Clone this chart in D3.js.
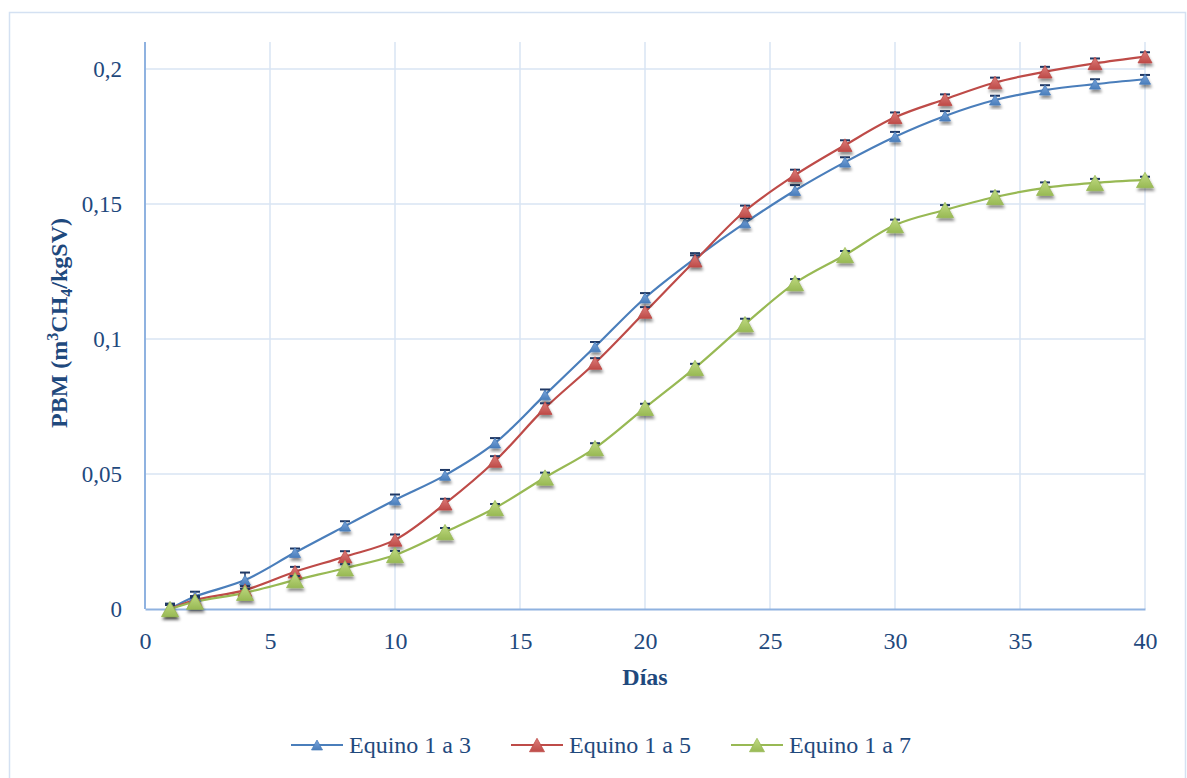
<!DOCTYPE html>
<html><head><meta charset="utf-8">
<script src="https://cdn.jsdelivr.net/npm/d3@7"></script>
<style>
body{margin:0;background:#fff;}
svg{display:block;}
</style></head>
<body><svg id="c" width="1187" height="778"></svg>
<script>
const days = [1,2,4,6,8,10,12,14,16,18,20,22,24,26,28,30,32,34,36,38,40];
const equino13 = [0,0.0046,0.0107,0.0209,0.0307,0.0404,0.0495,0.0615,0.0793,0.0971,0.1152,0.1298,0.143,0.155,0.1655,0.1749,0.1826,0.1885,0.1922,0.1944,0.1962];
const equino15 = [0,0.0033,0.007,0.0138,0.0194,0.0256,0.039,0.0548,0.0744,0.0911,0.110,0.129,0.1474,0.1607,0.1718,0.1821,0.1888,0.195,0.199,0.2021,0.2046];
const equino17 = [0,0.0027,0.006,0.0107,0.0151,0.0200,0.0285,0.0374,0.0487,0.0596,0.0745,0.0893,0.1055,0.1207,0.1311,0.1422,0.1478,0.1526,0.156,0.1578,0.1589];
const err13 = [0.002,0.0018,0.0028,0.0015,0.0018,0.002,0.002,0.0018,0.002,0.0018,0.0018,0.002,0.0018,0.002,0.0018,0.0018,0.0018,0.0016,0.0018,0.0018,0.0016];
const err15 = [0.0015,0.0015,0.0015,0.0018,0.002,0.002,0.0018,0.0018,0.0018,0.0018,0.0018,0.002,0.002,0.002,0.0018,0.0018,0.0018,0.0018,0.0018,0.0018,0.0016];
const err17 = [0.0015,0.0015,0.0015,0.0015,0.0015,0.0015,0.0015,0.0015,0.0018,0.0018,0.0015,0.0015,0.002,0.0015,0.0015,0.002,0.0018,0.002,0.002,0.0015,0.0012];
const seriesNames = ["Equino 1 a 3","Equino 1 a 5","Equino 1 a 7"];
const xTicks = [0,5,10,15,20,25,30,35,40];
const yTicks = [0,0.05,0.1,0.15,0.2];
const yTickLabels = ["0","0,05","0,1","0,15","0,2"];

const colors = ["#4a7ebb","#be4b48","#98b954"];
const light = ["#7aa5dc","#de7e7b","#c2dc84"];
const markerW = [11,14,17];

const svg = d3.select("#c");
const font = "'Liberation Serif', 'DejaVu Serif', serif";
const txt = "#1f497d";

// outer frame
svg.append("rect").attr("x",9.5).attr("y",12.5).attr("width",1176).attr("height",775)
  .attr("fill","#fff").attr("stroke","#d4e1f2").attr("stroke-width",1.5);

const x = d3.scaleLinear().domain([0,40]).range([145,1145]);
const y = d3.scaleLinear().domain([0,0.21]).range([609,42]);

const defs = svg.append("defs");
const f = defs.append("filter").attr("id","sh").attr("x","-50%").attr("y","-50%").attr("width","200%").attr("height","200%");
f.append("feDropShadow").attr("dx",1).attr("dy",3).attr("stdDeviation",1.6).attr("flood-color","#000").attr("flood-opacity",0.45);
colors.forEach((c,i)=>{
  const g = defs.append("linearGradient").attr("id","g"+i).attr("x1",0).attr("y1",0).attr("x2",0).attr("y2",1);
  g.append("stop").attr("offset","0%").attr("stop-color",light[i]);
  g.append("stop").attr("offset","100%").attr("stop-color",c);
});

// grid
const grid = svg.append("g");
grid.selectAll(".vg").data(xTicks.slice(1)).join("line")
  .attr("x1",d=>x(d)).attr("x2",d=>x(d)).attr("y1",42).attr("y2",609)
  .attr("stroke","#d9e4f3").attr("stroke-width",1.5);
grid.selectAll(".hg").data(yTicks.slice(1)).join("line")
  .attr("x1",145).attr("x2",1145).attr("y1",d=>y(d)).attr("y2",d=>y(d))
  .attr("stroke","#d9e4f3").attr("stroke-width",1.5);

// axes
const xAxis = d3.axisBottom(x).tickValues(xTicks).tickSize(0).tickPadding(23).tickFormat(d=>d);
const gx = svg.append("g").attr("transform","translate(0,609)").call(xAxis);
gx.select(".domain").attr("stroke","#8fb2e0").attr("stroke-width",2);
gx.selectAll("text").attr("font-family",font).attr("font-size",24).attr("fill",txt);

const yAxis = d3.axisLeft(y).tickValues(yTicks).tickSize(0).tickPadding(23).tickFormat((d,i)=>yTickLabels[i]);
const gy = svg.append("g").attr("transform","translate(145,0)").call(yAxis);
gy.select(".domain").attr("stroke","#8fb2e0").attr("stroke-width",2).attr("d","M0,42V609");
gy.selectAll("text").attr("font-family",font).attr("font-size",23).attr("fill",txt);

// titles
svg.append("text").attr("x",645).attr("y",685).attr("text-anchor","middle")
  .attr("font-family",font).attr("font-size",24).attr("font-weight","bold").attr("fill",txt).text("Días");
const yt = svg.append("text").attr("transform","translate(67,323) rotate(-90)").attr("text-anchor","middle")
  .attr("font-family",font).attr("font-size",24).attr("font-weight","bold").attr("fill",txt);
yt.append("tspan").text("PBM (m");
yt.append("tspan").attr("dy",-9).attr("font-size",16).text("3");
yt.append("tspan").attr("dy",9).text("CH");
yt.append("tspan").attr("dy",5).attr("font-size",16).text("4");
yt.append("tspan").attr("dy",-5).text("/kgSV)");

const allSeries = [equino13,equino15,equino17];
const allErr = [err13,err15,err17];
const line = d3.line().x(d=>x(d[0])).y(d=>y(d[1])).curve(d3.curveCatmullRom.alpha(0.5));

function tri(w){ const h=w*0.9; return `M0,${-h/2}L${w/2},${h/2}L${-w/2},${h/2}Z`; }

allSeries.forEach((vals,i)=>{
  const pts = days.map((d,j)=>[d,vals[j]]);
  svg.append("path").datum(pts).attr("d",line).attr("fill","none").attr("stroke",colors[i]).attr("stroke-width",2.2);
});
allSeries.forEach((vals,i)=>{
  const g = svg.append("g");
  days.forEach((d,j)=>{
    const cx=x(d), yv=y(vals[j]), ye=y(vals[j]+allErr[i][j]);
    g.append("line").attr("x1",cx).attr("x2",cx).attr("y1",yv).attr("y2",ye).attr("stroke","#1f3864").attr("stroke-width",1.5);
    g.append("line").attr("x1",cx-5).attr("x2",cx+5).attr("y1",ye).attr("y2",ye).attr("stroke","#1f3864").attr("stroke-width",2);
  });
  g.selectAll("path").data(days.map((d,j)=>[d,vals[j]])).join("path")
    .attr("d",tri(markerW[i])).attr("transform",d=>`translate(${x(d[0])},${y(d[1])})`)
    .attr("fill",`url(#g${i})`).attr("stroke",colors[i]).attr("stroke-width",0.8).attr("filter","url(#sh)");
});

// legend
const legX = [291,511,731];
const legMk = [11,15,15];
seriesNames.forEach((n,i)=>{
  const lg = svg.append("g").attr("transform",`translate(${legX[i]},745)`);
  lg.append("line").attr("x1",0).attr("x2",52).attr("stroke",colors[i]).attr("stroke-width",2.2);
  lg.append("path").attr("d",tri(legMk[i])).attr("transform","translate(26,0)").attr("fill",`url(#g${i})`).attr("stroke",colors[i]).attr("stroke-width",0.8);
  lg.append("text").attr("x",58).attr("y",8).attr("font-family",font).attr("font-size",24)
    .attr("fill",txt).text(n);
});
</script></body></html>
